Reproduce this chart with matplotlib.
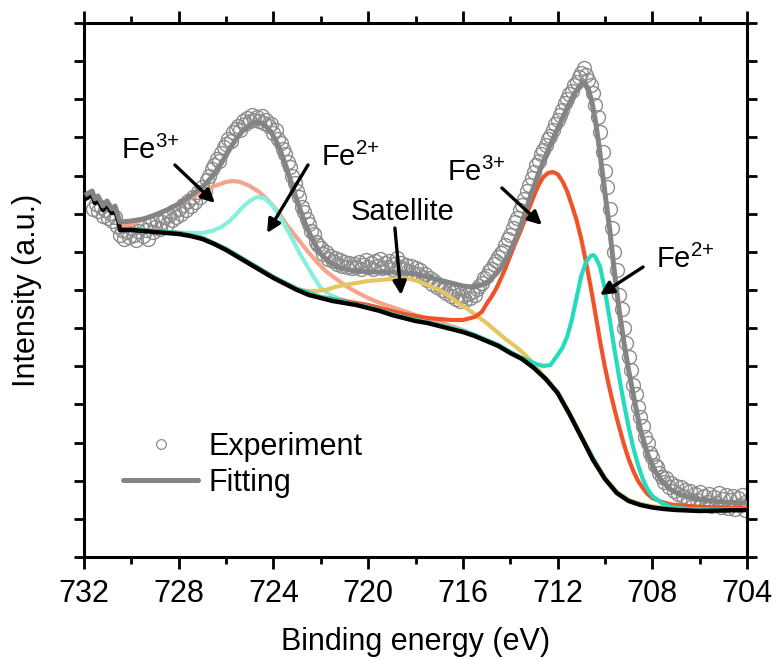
import numpy as np
import matplotlib
matplotlib.use("Agg")
import matplotlib.pyplot as plt
from matplotlib.lines import Line2D

plt.rcParams['font.family'] = ['Liberation Sans', 'DejaVu Sans']
plt.rcParams['mathtext.fontset'] = 'custom'
plt.rcParams['mathtext.rm'] = 'Liberation Sans'
plt.rcParams['mathtext.default'] = 'regular'

# ---------------- data (binding energy in eV, intensity in a.u.) ----------------
EXP_BE = np.linspace(731.6, 704.0, 277)   # measurement grid, 0.1 eV step
EXP_I = [348, 353, 346, 350, 341, 347, 339, 344, 336, 340,
         331, 322, 327, 318, 325, 320, 329, 322, 317, 326,
         330, 321, 327, 318, 333, 325, 330, 337, 328, 335,
         340, 333, 342, 337, 346, 340, 348, 343, 352, 347,
         356, 351, 360, 355, 365, 360, 370, 366, 377, 381,
         388, 392, 398, 396, 404, 410, 413, 418, 416, 425,
         428, 431, 427, 436, 433, 439, 436, 442, 437, 440,
         436, 441, 434, 437, 431, 433, 424, 427, 418, 414,
         408, 403, 395, 390, 381, 374, 366, 360, 350, 345,
         338, 333, 326, 323, 315, 312, 309, 303, 305, 298,
         301, 296, 299, 293, 297, 291, 295, 290, 294, 289,
         293, 290, 295, 288, 292, 297, 290, 294, 288, 296,
         291, 298, 289, 294, 290, 296, 288, 293, 299, 290,
         294, 288, 292, 286, 291, 284, 289, 283, 287, 280,
         283, 277, 279, 273, 276, 270, 272, 267, 270, 264,
         266, 261, 265, 258, 262, 256, 261, 257, 263, 259,
         265, 262, 268, 271, 274, 279, 281, 286, 288, 293,
         296, 300, 304, 306, 312, 318, 322, 329, 335, 339,
         347, 352, 358, 366, 372, 379, 385, 392, 396, 403,
         407, 412, 418, 421, 427, 433, 437, 442, 447, 454,
         458, 463, 466, 472, 475, 480, 484, 489, 482, 477,
         472, 464, 452, 440, 425, 405, 386, 370, 348, 329,
         305, 287, 262, 248, 229, 214, 200, 187, 172, 163,
         150, 140, 131, 120, 114, 104, 100, 92, 90, 84,
         80, 75, 79, 70, 74, 66, 71, 63, 70, 61,
         67, 58, 66, 56, 63, 57, 65, 53, 61, 55,
         63, 51, 60, 54, 64, 50, 58, 62, 49, 57,
         61, 48, 59, 52, 62, 47, 56]

FIT_BE = [731.87, 731.66, 731.54, 731.41, 731.20, 731.03, 730.82, 730.69, 730.56, 730.48,
          730.0, 729.5, 729.0, 728.5, 728.0, 727.5, 727.0, 726.6, 726.2, 725.9,
          725.6, 725.3, 725.0, 724.7, 724.4, 724.1, 723.8, 723.5, 723.2, 722.9,
          722.6, 722.3, 722.0, 721.6, 721.2, 720.8, 720.4, 720.0, 719.5, 719.0,
          718.5, 718.0, 717.5, 717.0, 716.5, 716.0, 715.6, 715.2, 714.9, 714.6,
          714.3, 714.0, 713.7, 713.4, 713.1, 712.8, 712.5, 712.2, 711.9, 711.6,
          711.3, 711.0, 710.85, 710.7, 710.55, 710.4, 710.25, 710.1, 709.95, 709.8,
          709.6, 709.4, 709.2, 709.0, 708.8, 708.5, 708.2, 707.9, 707.6, 707.2,
          706.8, 706.3, 705.8, 705.0, 704.0]
FIT_I = [363, 366, 358, 361, 351, 356, 348, 351, 341, 335,
         336, 338, 342, 347, 353, 361, 370, 380, 394, 406,
         417, 426, 432, 435, 433, 425, 412, 393, 371, 349,
         330, 315, 303, 294, 289, 287, 286, 285, 285, 285,
         284, 283, 280, 277, 274, 271, 270, 272, 276, 283,
         292, 306, 322, 342, 364, 384, 401, 418, 433, 449,
         463, 473, 474, 468, 455, 436, 411, 383, 355, 328,
         285, 247, 215, 187, 162, 127, 103, 87, 76, 67,
         62, 59, 57, 55, 54]

BG_BE = [731.87, 731.66, 731.54, 731.41, 731.20, 731.03, 730.82, 730.69, 730.56, 730.48,
         730.0, 729.5, 729.0, 728.5, 728.0, 727.5, 727.0, 726.5, 726.0, 725.5,
         725.0, 724.5, 724.0, 723.5, 723.0, 722.5, 722.0, 721.5, 721.0, 720.5,
         720.0, 719.5, 719.0, 718.5, 718.0, 717.5, 717.0, 716.5, 716.0, 715.5,
         715.0, 714.5, 714.0, 713.5, 713.0, 712.5, 712.0, 711.5, 711.0, 710.5,
         710.0, 709.5, 709.0, 708.5, 708.0, 707.5, 707.0, 706.0, 705.0, 704.0]
BG_I = [359, 362, 354, 357, 347, 352, 344, 347, 337, 327,
        327, 326, 325, 324, 323, 321, 318, 313, 307, 300,
        293, 286, 279, 273, 267, 262, 259, 256, 254, 252,
        249, 246, 242, 239, 236, 234, 231, 228, 225, 221,
        216, 211, 204, 198, 189, 178, 164, 143, 120, 97,
        78, 64, 56, 52, 49.5, 48, 47, 46, 46.5, 47]

# Fe3+ 2p1/2 component (salmon)
FE3_B_BE = [730.48, 730.0, 729.5, 729.0, 728.5, 728.0, 727.5, 727.0, 726.5, 726.0,
            725.7, 725.4, 725.0, 724.6, 724.2, 723.8, 723.4, 723.0, 722.6, 722.2,
            721.8, 721.4, 721.0, 720.5, 720.0, 719.5, 719.0, 718.5, 718.0, 717.5,
            717.0, 716.5, 716.0, 715.5, 715.0, 714.5, 714.0, 713.5, 713.0, 712.5,
            712.0, 711.5, 711.0, 710.5, 710.0, 709.5, 709.0, 708.5, 708.0, 707.0,
            706.0, 705.0, 704.0]
FE3_B_I = [330, 333, 337, 342, 347, 353, 359, 365, 371, 375,
           376, 375, 371, 365, 356, 345, 331, 319, 307, 296,
           286, 279, 272, 265, 259, 254, 250, 246, 242, 238,
           235, 231, 227, 222, 217, 212, 205, 199, 190, 179,
           165, 144, 121, 98, 79, 65, 57, 53, 50.5, 48,
           47, 47.5, 48]

# Fe2+ 2p1/2 component (light cyan)
FE2_B_BE = [730.48, 729.5, 728.5, 727.5, 727.0, 726.6, 726.2, 725.9, 725.6, 725.3,
            725.0, 724.7, 724.4, 724.1, 723.8, 723.5, 723.2, 722.9, 722.6, 722.3,
            722.0, 721.6, 721.2, 720.8, 720.4, 720.0, 719.5, 719.0, 718.5, 718.0,
            717.0, 716.0, 715.0, 714.0, 713.0, 712.0, 711.0, 710.0, 709.5, 709.0,
            708.5, 708.0, 707.0, 706.0, 704.0]
FE2_B_I = [328, 327, 325, 324, 324, 326, 330, 335, 342, 350,
           356, 360, 359, 353, 343, 331, 318, 304, 292, 280,
           269, 262, 258, 255, 253, 250, 247, 243, 240, 237,
           232, 226, 217, 205, 190, 165, 121, 79, 65, 57,
           53, 50.5, 48, 47, 48]

# Satellite component (yellow)
SAT_BE = [730.48, 729.0, 728.0, 727.0, 726.0, 725.0, 724.0, 723.4, 723.0, 722.6,
          722.2, 721.8, 721.4, 721.0, 720.5, 720.0, 719.5, 719.0, 718.6, 718.2,
          717.8, 717.4, 717.0, 716.6, 716.2, 715.8, 715.4, 715.0, 714.6, 714.2,
          713.8, 713.4, 713.0, 712.6, 712.2, 712.0, 711.5, 711.0, 710.5, 710.0,
          709.5, 709.0, 708.5, 708.0, 707.0, 706.0, 704.0]
SAT_I = [328, 326, 324, 319, 308, 294, 280, 272, 268, 266,
         266, 267, 270, 272, 274, 276, 277, 278, 279, 278,
         275, 271, 267, 261, 254, 248, 241, 234, 226, 218,
         211, 203, 193, 181, 170, 165, 144, 121, 98, 79,
         65, 57, 53, 50.5, 48, 47, 48]

# Fe3+ 2p3/2 component (orange-red)
FE3_A_BE = [730.48, 730.0, 729.0, 728.0, 727.0, 726.0, 725.0, 724.0, 723.0, 722.0,
            721.0, 720.0, 719.0, 718.5, 718.0, 717.5, 717.0, 716.5, 716.0, 715.5,
            715.2, 715.0, 714.8, 714.6, 714.4, 714.2, 714.0, 713.8, 713.6, 713.4,
            713.2, 713.0, 712.8, 712.6, 712.4, 712.2, 712.0, 711.8, 711.6, 711.4,
            711.2, 711.0, 710.8, 710.6, 710.4, 710.2, 710.0, 709.8, 709.6, 709.4,
            709.2, 709.0, 708.8, 708.6, 708.4, 708.2, 708.0, 707.6, 707.2, 706.5,
            705.8, 705.0, 704.0]
FE3_A_I = [328, 328, 326, 324, 319, 308, 294, 280, 268, 260,
           256, 252, 246, 243, 241, 239, 238, 237, 237, 240,
           245, 253, 260, 268, 278, 289, 301, 313, 324, 336,
           349, 361, 372, 380, 384, 385, 383, 376, 366, 352,
           337, 318, 295, 270, 243, 215, 190, 168, 148, 130,
           113, 98, 86, 76, 69, 63, 59, 55, 52.5, 51,
           50, 49.5, 49]

# Fe2+ 2p3/2 component (turquoise)
FE2_A_BE = [730.48, 729.0, 728.0, 727.0, 726.0, 725.0, 724.0, 723.0, 722.0, 721.0,
            720.0, 719.0, 718.0, 717.0, 716.0, 715.5, 715.0, 714.5, 714.0, 713.6,
            713.2, 712.9, 712.6, 712.3, 712.0, 711.8, 711.6, 711.4, 711.2, 711.0,
            710.8, 710.6, 710.5, 710.4, 710.2, 710.0, 709.8, 709.6, 709.4, 709.2,
            709.0, 708.8, 708.6, 708.4, 708.2, 708.0, 707.6, 707.2, 706.5, 705.5,
            704.0]
FE2_A_I = [328, 326, 324, 319, 308, 294, 280, 268, 260, 255,
           250, 243, 237, 232, 226, 222, 217, 212, 205, 200,
           196, 193, 191, 192, 202, 209, 220, 237, 259, 281,
           295, 301, 302, 300, 290, 267, 238, 208, 180, 154,
           130, 109, 92, 78, 68, 61, 54, 50, 48, 47.5,
           48]

X_TICKS = [732, 728, 724, 720, 716, 712, 708, 704]

# ---------------- figure ----------------
fig = plt.figure(figsize=(7.76, 6.59), dpi=100)
ax = fig.add_axes([84 / 776, 1 - 557 / 659, 663 / 776, 534 / 659])

ax.plot(EXP_BE, EXP_I, ls='none', marker='o', ms=10, mfc='none',
        mec='#8c8c8c', mew=1.0, zorder=2)
ax.plot(FE3_B_BE, FE3_B_I, color='#F6A48C', lw=3.0, zorder=3)
ax.plot(FE2_B_BE, FE2_B_I, color='#86F0DE', lw=3.0, zorder=3)
ax.plot(SAT_BE, SAT_I, color='#E6C660', lw=3.0, zorder=3)
ax.plot(FE3_A_BE, FE3_A_I, color='#F0522A', lw=3.0, zorder=3)
ax.plot(FE2_A_BE, FE2_A_I, color='#22DCBD', lw=3.0, zorder=3)
ax.plot(BG_BE, BG_I, color='black', lw=3.2, zorder=4)
ax.plot(FIT_BE, FIT_I, color='#848484', lw=3.6, zorder=5)

ax.set_xlim(732, 704)
ax.set_ylim(0, 534)
ax.set_xticks(X_TICKS)
ax.set_xticks(np.arange(704, 733, 2), minor=True)
ax.set_yticks(np.linspace(0, 534, 15))
ax.set_yticklabels([])
ax.tick_params(axis='both', which='both', direction='out', width=2.0,
               top=True, right=True, labelsize=22)
ax.tick_params(axis='x', which='major', length=8.5, pad=7)
ax.tick_params(axis='x', which='minor', length=5)
ax.tick_params(axis='y', which='major', length=7.5)
for s in ax.spines.values():
    s.set_linewidth(2.2)

ax.set_xlabel('Binding energy (eV)', fontsize=22, labelpad=13)
ax.set_ylabel('Intensity (a.u.)', fontsize=22, labelpad=19)

# ---------------- annotations ----------------
aprops = dict(arrowstyle='-|>', lw=2.4, color='black', mutation_scale=20,
              shrinkA=0, shrinkB=0)
ax.text(729.21, 407, 'Fe$^{3{+}}$', fontsize=21, ha='center', va='center', zorder=6)
ax.annotate('', xy=(726.47, 354), xytext=(728.16, 392), arrowprops=aprops, zorder=6)
ax.text(720.77, 400, 'Fe$^{2{+}}$', fontsize=21, ha='center', va='center', zorder=6)
ax.annotate('', xy=(724.27, 324), xytext=(722.54, 392), arrowprops=aprops, zorder=6)
ax.text(718.53, 345, 'Satellite', fontsize=21, ha='center', va='center', zorder=6)
ax.annotate('', xy=(718.61, 262), xytext=(718.87, 329), arrowprops=aprops, zorder=6)
ax.text(715.45, 385, 'Fe$^{3{+}}$', fontsize=21, ha='center', va='center', zorder=6)
ax.annotate('', xy=(712.66, 332), xytext=(714.35, 369), arrowprops=aprops, zorder=6)
ax.text(706.62, 298, 'Fe$^{2{+}}$', fontsize=21, ha='center', va='center', zorder=6)
ax.annotate('', xy=(710.21, 262), xytext=(708.39, 290), arrowprops=aprops, zorder=6)

# ---------------- legend ----------------
handles = [Line2D([], [], ls='none', marker='o', ms=7, mfc='none', mec='#8c8c8c', mew=0.9),
           Line2D([], [], color='#848484', lw=3.6, solid_capstyle='round')]
ax.legend(handles, ['Experiment', 'Fitting'], loc='center left',
          bbox_to_anchor=(0.059, 0.173), frameon=False, fontsize=22,
          borderpad=0, borderaxespad=0, handlelength=2.45, handletextpad=0.33,
          labelspacing=0.2)

fig.savefig('out.png', dpi=100)
